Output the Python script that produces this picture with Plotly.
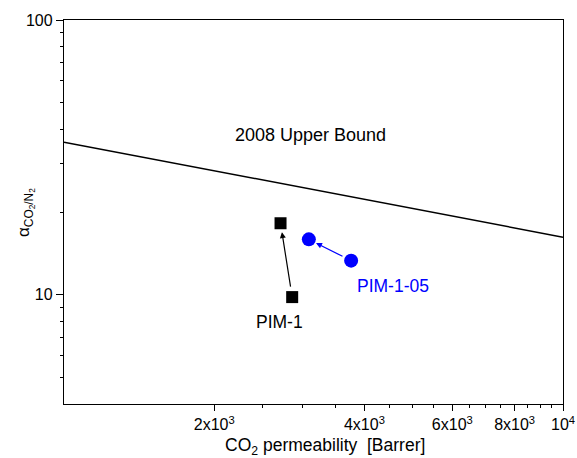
import numpy as np
import plotly.graph_objects as go

# Data
bound_x = [1000, 10000]
bound_y = [35.9, 16.2]
pim1_x = [2716, 2866]
pim1_y = [18.2, 9.8]
pim105_x = [3095, 3762]
pim105_y = [15.9, 13.3]

x_tickvals = [2000, 4000, 6000, 8000, 10000]
x_ticktext = ["2x10<sup>3</sup>", "4x10<sup>3</sup>", "6x10<sup>3</sup>", "8x10<sup>3</sup>", "10<sup>4</sup>"]
x_minor = [2500, 3000, 3500, 4500, 5000, 5500, 6500, 7000, 7500, 8500, 9000, 9500]
y_tickvals = [10, 100]
y_ticktext = ["10", "100"]
y_minor = [5, 6, 7, 8, 9, 20, 30, 40, 50, 60, 70, 80, 90]

FONT = "Liberation Sans, Arial, sans-serif"

fig = go.Figure()
fig.add_trace(go.Scatter(x=bound_x, y=bound_y, mode="lines",
                         line=dict(color="black", width=1.5), showlegend=False))
fig.add_trace(go.Scatter(x=pim1_x, y=pim1_y, mode="markers",
                         marker=dict(symbol="square", size=12, color="black"), showlegend=False))
fig.add_trace(go.Scatter(x=pim105_x, y=pim105_y, mode="markers",
                         marker=dict(symbol="circle", size=14, color="#0000ff"), showlegend=False))

# arrows (log axes -> log10 coordinates)
fig.add_annotation(x=np.log10(pim1_x[0]), y=np.log10(pim1_y[0]),
                   ax=np.log10(pim1_x[1]), ay=np.log10(pim1_y[1]),
                   xref="x", yref="y", axref="x", ayref="y", text="",
                   showarrow=True, arrowhead=2, arrowsize=1, arrowwidth=1.2,
                   arrowcolor="black", standoff=9, startstandoff=9)
fig.add_annotation(x=np.log10(pim105_x[0]), y=np.log10(pim105_y[0]),
                   ax=np.log10(pim105_x[1]), ay=np.log10(pim105_y[1]),
                   xref="x", yref="y", axref="x", ayref="y", text="",
                   showarrow=True, arrowhead=2, arrowsize=1, arrowwidth=1.2,
                   arrowcolor="#0000ff", standoff=8, startstandoff=8)

# text labels
fig.add_annotation(x=np.log10(2000) + (310 - 214) / 499.3, y=1 + (295 - 135) / 275,
                   xref="x", yref="y", text="2008 Upper Bound", showarrow=False,
                   font=dict(family=FONT, size=18, color="black"))
fig.add_annotation(x=3 + (279.5 - 64) / 499.3, y=1 - (322 - 295) / 275,
                   xref="x", yref="y", text="PIM-1", showarrow=False,
                   font=dict(family=FONT, size=17.5, color="black"))
fig.add_annotation(x=3 + (393 - 64) / 499.3, y=1 - (286 - 295) / 275,
                   xref="x", yref="y", text="PIM-1-05", showarrow=False,
                   font=dict(family=FONT, size=17.5, color="#0000ff"))

axis_common = dict(showline=True, linecolor="black", linewidth=1.3, mirror=True,
                   showgrid=False, zeroline=False, ticks="outside", tickcolor="black",
                   tickwidth=1.3, automargin=False,
                   tickfont=dict(family=FONT, size=16, color="black"))

fig.update_xaxes(type="log", range=[3, 4], tickmode="array", tickvals=x_tickvals,
                 ticktext=x_ticktext, ticklen=6,
                 minor=dict(tickmode="array", tickvals=x_minor, ticks="outside",
                            ticklen=3, tickcolor="black", tickwidth=1.3),
                 **axis_common)
fig.update_yaxes(type="log", range=[np.log10(4), 2], tickmode="array", tickvals=y_tickvals,
                 ticktext=y_ticktext, ticklen=7,
                 minor=dict(tickmode="array", tickvals=y_minor, ticks="outside",
                            ticklen=3, tickcolor="black", tickwidth=1.3),
                 **axis_common)

L, R, T, B = 64, 14, 20, 54
W, H = 577, 458
pw, ph = W - L - R, H - T - B
fig.add_annotation(x=(325 - L) / pw, y=-(446 - (H - B)) / ph, xref="paper", yref="paper",
                   xanchor="center", yanchor="middle",
                   text="CO<sub>2</sub> permeability &nbsp;[Barrer]", showarrow=False,
                   font=dict(family=FONT, size=17.5, color="black"))
fig.add_annotation(x=(25 - L) / pw, y=1 - (213 - T) / ph, xref="paper", yref="paper",
                   xanchor="center", yanchor="middle",
                   text="α<sub>CO<sub>2</sub>/N<sub>2</sub></sub>", showarrow=False, textangle=-90,
                   font=dict(family=FONT, size=17, color="black"))

fig.update_layout(width=W, height=H, margin=dict(l=L, r=R, t=T, b=B, autoexpand=False),
                  paper_bgcolor="white", plot_bgcolor="white",
                  font=dict(family=FONT, size=16, color="black"))

fig.write_html("out.html")
